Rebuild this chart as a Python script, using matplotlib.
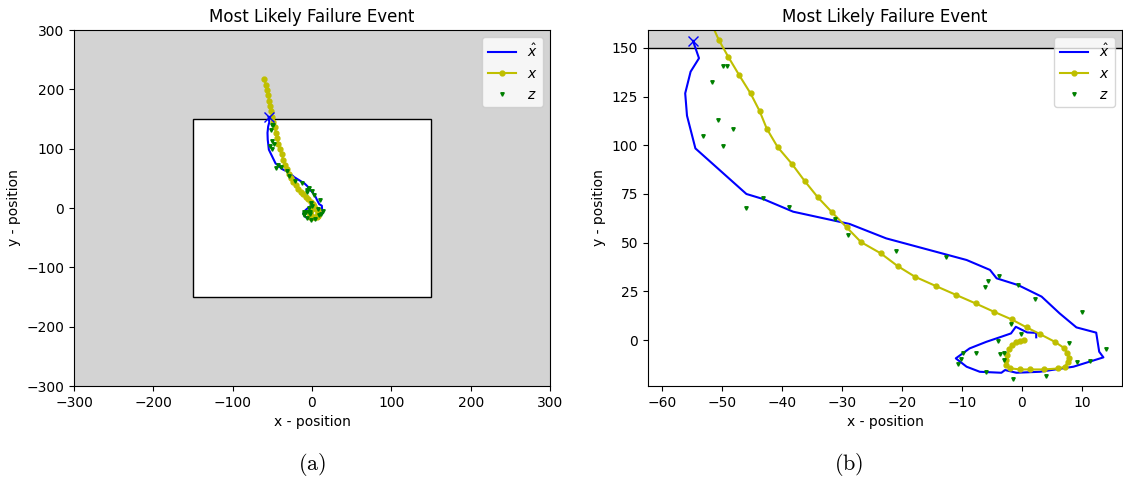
import matplotlib.pyplot as plt
import matplotlib.patches as patches

# true trajectory x (from origin out to failure)
x_true = [0.4, -0.3, -1.0, -1.7, -2.1, -2.4, -2.6, -2.7, -2.0, -0.3, 1.3, 3.7,
          6.1, 7.2, 7.7, 7.9, 7.6, 7.0, 5.5, 3.0, 0.8, -1.7, -4.7, -7.7, -10.9,
          -14.3, -17.8, -20.7, -23.5, -26.8, -29.2, -31.6, -34.0, -36.2, -38.3,
          -40.7, -42.5, -43.7, -45.2, -47.1, -48.9, -50.5, -51.8, -52.9, -54.0,
          -55.3, -56.7, -58.3, -60.1]
y_true = [0.0, -0.3, -1.2, -2.6, -4.8, -7.7, -10.3, -12.8, -14.5, -15.1, -15.1,
          -15.1, -14.6, -13.7, -11.1, -9.4, -6.9, -4.0, -0.9, 3.1, 6.5, 10.6,
          14.6, 18.8, 23.1, 27.7, 32.5, 38.0, 44.5, 50.3, 57.9, 65.5, 73.3, 81.7,
          90.4, 99.1, 108.5, 117.6, 126.6, 136.0, 145.3, 154.1, 163.0, 172.0,
          181.0, 190.0, 199.0, 208.0, 217.4]

# estimated trajectory x_hat
x_est = [2.4, 2.4, 0.9, -1.0, -1.8, -3.4, -5.9, -8.7, -11.0, -9.2, -7.0, -3.4,
         -2.8, -0.9, 3.0, 8.6, 13.6, 12.9, 12.4, 9.1, 6.3, 3.3, -0.6, -4.2,
         -5.3, -9.2, -22.6, -28.7, -38.1, -43.1, -45.9, -54.4, -55.8, -56.1,
         -55.2, -53.8, -54.8]
y_est = [1.4, 3.7, 3.9, 6.8, 3.4, 1.7, -0.9, -4.3, -9.4, -13.7, -16.3, -16.8,
         -15.4, -16.8, -16.3, -13.7, -8.9, -6.0, 3.8, 6.5, 13.7, 22.3, 28.2,
         31.7, 36.0, 41.1, 52.2, 59.6, 65.9, 72.4, 75.0, 98.4, 115.2, 126.7,
         137.8, 144.7, 153.6]

# measurements z
x_meas = [-49.8, -49.1, -51.6, -50.7, -48.2, -53.2, -49.8, -43.1, -46.0, -38.8,
          -31.1, -28.9, -20.9, -12.6, -3.8, -5.7, -6.2, -0.6, 2.2, 10.0, -1.8,
          -0.1, -3.9, 7.9, 14.0, -9.8, -7.7, -3.6, -2.9, -10.1, -2.9, -10.6,
          9.2, 11.3, -5.9, 4.1, -1.4]
y_meas = [140.7, 140.7, 132.3, 113.2, 108.5, 104.8, 99.8, 72.8, 67.6, 68.5,
          62.0, 53.8, 45.9, 42.5, 32.9, 30.1, 27.1, 28.2, 21.1, 14.2, 8.0, 2.9,
          -0.3, -1.7, -4.6, -6.4, -6.5, -7.4, -6.4, -9.9, -10.3, -12.5, -11.1,
          -10.8, -16.3, -18.3, -20.0]

safe_box = (-150, 150)

fig = plt.figure(figsize=(11.23, 4.82), dpi=100)
ax1 = fig.add_axes([74 / 1123, 96 / 482, 476 / 1123, 356 / 482])
ax2 = fig.add_axes([648 / 1123, 96 / 482, 474 / 1123, 356 / 482])

for ax in [ax1, ax2]:
    ax.set_facecolor('lightgray')
    lo, hi = safe_box
    ax.add_patch(patches.Rectangle((lo, lo), hi - lo, hi - lo, facecolor='white',
                                   edgecolor='black', lw=1, zorder=0.5))
    ax.plot(x_est, y_est, 'b-', label=r'$\hat{x}$')
    ax.plot(x_true, y_true, 'y.-', markersize=7, label=r'$x$')
    ax.plot(x_meas, y_meas, 'gv', markersize=2.5, label=r'$z$')
    ax.plot(x_est[-1], y_est[-1], 'bx', markersize=7)
    ax.set_title('Most Likely Failure Event')
    ax.set_xlabel('x - position')
    ax.set_ylabel('y - position')
    ax.legend(loc='upper right')

ax1.set_xlim(-300, 300)
ax1.set_ylim(-300, 300)
ax2.set_xlim(-62.3, 16.7)
ax2.set_ylim(-23.6, 159.2)
ax2.set_yticks([0, 25, 50, 75, 100, 125, 150])

fig.text(0.2782, 0.025, r'$\mathrm{(a)}$', ha='center', fontsize=16,
         math_fontfamily='cm')
fig.text(0.7556, 0.025, r'$\mathrm{(b)}$', ha='center', fontsize=16,
         math_fontfamily='cm')

fig.savefig('out.png', dpi=100)
